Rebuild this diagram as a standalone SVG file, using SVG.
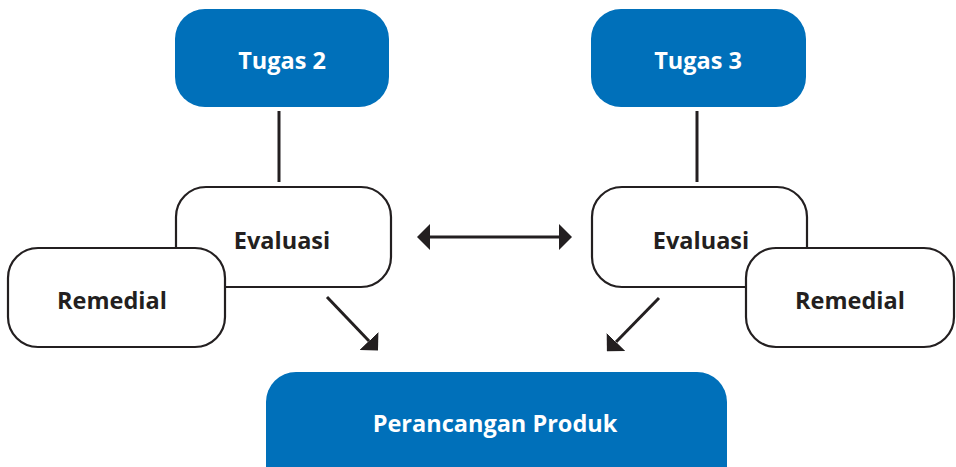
<svg xmlns="http://www.w3.org/2000/svg" width="956" height="467" viewBox="0 0 956 467">
<style>
.blue{fill:#0070ba;}
.wbox{fill:#ffffff;stroke:#231f20;stroke-width:2.2;}
.wt{font-family:"Open Sans","Liberation Sans",sans-serif;font-weight:bold;font-size:23.5px;fill:#ffffff;text-anchor:middle;}
.bt{font-family:"Open Sans","Liberation Sans",sans-serif;font-weight:bold;font-size:23.5px;fill:#231f20;text-anchor:middle;}
.ln{stroke:#231f20;stroke-width:3;fill:none;}
</style>
<defs>
<marker id="ah" viewBox="0 0 13 26" refX="0" refY="13" markerWidth="13" markerHeight="26" markerUnits="userSpaceOnUse" orient="auto-start-reverse">
<path d="M0,0 L13,13 L0,26 z" fill="#231f20"/>
</marker>
</defs>
<rect width="956" height="467" fill="#ffffff"/>
<g id="connectors">
<line class="ln" x1="279" y1="111" x2="279" y2="182"/>
<line class="ln" x1="697" y1="111" x2="697" y2="182"/>
<line class="ln" x1="430" y1="237" x2="559" y2="237" marker-start="url(#ah)" marker-end="url(#ah)"/>
<line class="ln" x1="327" y1="297" x2="369" y2="341" marker-end="url(#ah)"/>
<line class="ln" x1="659" y1="298" x2="616" y2="342" marker-end="url(#ah)"/>
</g>
<g id="tugas2">
<rect class="blue" x="175" y="9" width="214" height="98" rx="30"/>
<text class="wt" x="282" y="69">Tugas 2</text>
</g>
<g id="tugas3">
<rect class="blue" x="591" y="9" width="215" height="98" rx="30"/>
<text class="wt" x="698" y="69">Tugas 3</text>
</g>
<g id="evaluasi1">
<rect class="wbox" x="176" y="187" width="215" height="100" rx="30"/>
<text class="bt" x="282" y="249">Evaluasi</text>
</g>
<g id="remedial1">
<rect class="wbox" x="8" y="248" width="217" height="99" rx="30"/>
<text class="bt" x="112" y="309">Remedial</text>
</g>
<g id="evaluasi2">
<rect class="wbox" x="592" y="187" width="215" height="100" rx="30"/>
<text class="bt" x="701" y="249">Evaluasi</text>
</g>
<g id="remedial2">
<rect class="wbox" x="746" y="248" width="208" height="99" rx="30"/>
<text class="bt" x="850" y="309">Remedial</text>
</g>
<g id="perancangan">
<rect class="blue" x="266" y="372" width="461" height="130" rx="30"/>
<text class="wt" x="495" y="432">Perancangan Produk</text>
</g>
</svg>
